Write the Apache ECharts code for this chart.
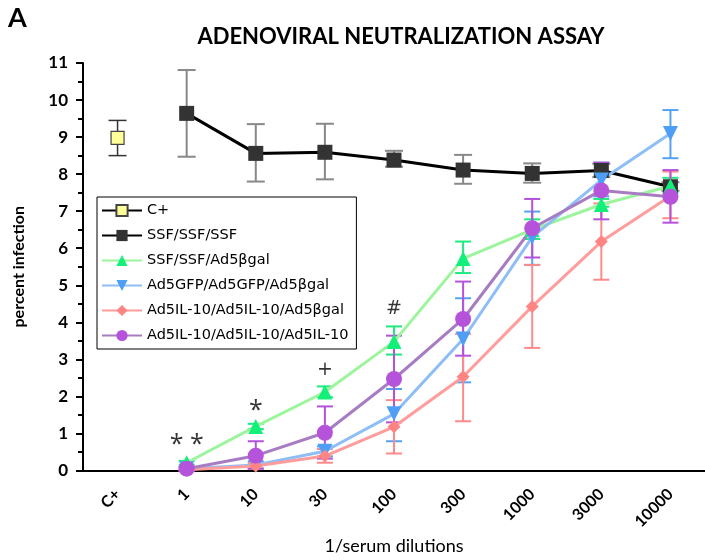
<!DOCTYPE html>
<html><head><meta charset="utf-8">
<script src="https://cdn.jsdelivr.net/npm/echarts@6/dist/echarts.min.js"></script>
<style>html,body{margin:0;padding:0;background:#fff}#c{width:705px;height:560px}</style>
</head><body><div id="c"></div>
<script>
const categories = ['C+','1','10','30','100','300','1000','3000','10000'];
const seriesNames = ['C+','SSF/SSF/SSF','SSF/SSF/Ad5\u03B2gal','Ad5GFP/Ad5GFP/Ad5\u03B2gal','Ad5IL-10/Ad5IL-10/Ad5\u03B2gal','Ad5IL-10/Ad5IL-10/Ad5IL-10'];

const cpMean   = [8.98, null, null, null, null, null, null, null, null];
const cpLow    = [8.50, null, null, null, null, null, null, null, null];
const cpHigh   = [9.45, null, null, null, null, null, null, null, null];

const ssfMean  = [null, 9.64, 8.56, 8.59, 8.38, 8.11, 8.02, 8.10, 7.66];
const ssfLow   = [null, 8.47, 7.80, 7.86, 8.20, 7.74, 7.77, 7.92, 7.55];
const ssfHigh  = [null, 10.81, 9.35, 9.36, 8.63, 8.52, 8.29, 8.28, 7.78];

const grnMean  = [null, 0.21, 1.19, 2.12, 3.48, 5.72, 6.50, 7.18, 7.68];
const grnLow   = [null, 0.16, 1.12, 1.98, 3.13, 5.33, 6.25, 7.12, 7.50];
const grnHigh  = [null, 0.26, 1.26, 2.27, 3.89, 6.18, 6.78, 7.33, 7.90];

const bluMean  = [null, 0.05, 0.15, 0.52, 1.53, 3.55, 6.30, 7.84, 9.10];
const bluLow   = [null, 0.00, 0.05, 0.38, 0.79, 2.38, 5.55, 7.40, 8.43];
const bluHigh  = [null, 0.10, 0.25, 0.65, 2.20, 4.65, 6.99, 8.31, 9.73];

const pnkMean  = [null, 0.02, 0.12, 0.39, 1.18, 2.53, 4.43, 6.18, 7.41];
const pnkLow   = [null, 0.00, 0.05, 0.21, 0.46, 1.33, 3.31, 5.15, 6.81];
const pnkHigh  = [null, 0.04, 0.20, 0.58, 1.90, 3.69, 5.55, 7.21, 8.07];

const purMean  = [null, 0.05, 0.40, 1.02, 2.47, 4.09, 6.54, 7.56, 7.39];
const purLow   = [null, 0.00, 0.05, 0.32, 1.30, 3.10, 5.75, 6.78, 6.69];
const purHigh  = [null, 0.10, 0.79, 1.73, 3.64, 5.10, 7.33, 8.31, 8.11];

const annotCats   = ['1', '10', '30', '100'];
const annotValues = [0.68, 1.60, 2.72, 4.35];
const annotTexts  = ['* *', '*', '+', '#'];

const yTicks = [0,1,2,3,4,5,6,7,8,9,10,11];

const chart = echarts.init(document.getElementById('c'), null, {renderer:'canvas'});

function errSeries(low, high, color, width, capHalf) {
  const data = [];
  for (let i = 0; i < categories.length; i++) {
    if (low[i] != null && high[i] != null) data.push([i, low[i], high[i]]);
  }
  return {
    type: 'custom',
    silent: true,
    z: 2,
    data: data,
    encode: {x: 0, y: [1, 2]},
    renderItem: function (params, api) {
      const x = api.value(0);
      const lo = api.coord([x, api.value(1)]);
      const hi = api.coord([x, api.value(2)]);
      const st = {stroke: color, lineWidth: width};
      return {
        type: 'group',
        children: [
          {type: 'line', shape: {x1: lo[0], y1: lo[1], x2: hi[0], y2: hi[1]}, style: st},
          {type: 'line', shape: {x1: lo[0]-capHalf, y1: lo[1], x2: lo[0]+capHalf, y2: lo[1]}, style: st},
          {type: 'line', shape: {x1: hi[0]-capHalf, y1: hi[1], x2: hi[0]+capHalf, y2: hi[1]}, style: st}
        ]
      };
    }
  };
}

function lineSeries(name, values, lineColor, markColor, symbol, size, lw, border) {
  return {
    name: name,
    type: 'line',
    data: values,
    z: 3,
    symbol: symbol,
    symbolSize: size,
    showAllSymbol: true,
    connectNulls: false,
    lineStyle: {color: lineColor, width: lw},
    itemStyle: {color: markColor, borderColor: border || markColor, borderWidth: border ? 1.2 : 0},
    emphasis: {disabled: true},
    animation: false
  };
}

const annotData = annotCats.map((c, i) => {
  const star = annotTexts[i].indexOf('*') >= 0;
  return {
    value: [c, annotValues[i]],
    label: {formatter: annotTexts[i], fontFamily: star ? 'Open Sans' : 'DejaVu Sans', fontSize: star ? 25 : 19}
  };
});

const option = {
  animation: false,
  backgroundColor: '#fff',
  title: {
    text: 'ADENOVIRAL NEUTRALIZATION ASSAY',
    left: 396, top: 21, textAlign: 'center',
    textStyle: {fontFamily: 'Lato', fontWeight: 'bold', fontSize: 22, color: '#000'}
  },
  graphic: [{
    type: 'text', left: 8, top: 5,
    style: {text: 'A', font: 'bold 27px Lato', fill: '#000'}
  }],
  legend: {
    data: seriesNames,
    orient: 'vertical',
    left: 97, top: 197,
    itemWidth: 40, itemHeight: 14, itemGap: 10,
    padding: [6, 8, 6, 4],
    borderColor: '#000', borderWidth: 1,
    textStyle: {fontFamily: 'DejaVu Sans', fontSize: 14.5, color: '#000'},
    selectedMode: false
  },
  grid: {left: 83, right: 0, top: 63, bottom: 89, containLabel: false},
  xAxis: {
    type: 'category',
    data: categories,
    boundaryGap: true,
    name: '1/serum dilutions',
    nameLocation: 'middle',
    nameGap: 60,
    nameTextStyle: {fontFamily: 'Lato', fontSize: 18, color: '#000'},
    axisLine: {lineStyle: {color: '#000', width: 2}},
    axisTick: {alignWithLabel: true, length: 7, lineStyle: {color: '#000', width: 2}},
    axisLabel: {rotate: 45, margin: 21, fontFamily: 'Lato', fontWeight: 'bold', fontSize: 16, color: '#000', interval: 0},
    splitLine: {show: false}
  },
  yAxis: {
    type: 'value',
    min: 0, max: 11, interval: 1,
    name: 'percent infection',
    nameLocation: 'middle',
    nameGap: 56,
    nameTextStyle: {fontFamily: 'Lato', fontWeight: 'bold', fontSize: 16, color: '#000'},
    axisLine: {show: true, lineStyle: {color: '#000', width: 2}},
    axisTick: {show: true, length: 7, lineStyle: {color: '#000', width: 2}},
    minorTick: {show: true, splitNumber: 2, length: 5, lineStyle: {color: '#000', width: 2}},
    axisLabel: {fontFamily: 'Lato', fontWeight: 'bold', fontSize: 17, color: '#000', margin: 15,
      formatter: v => yTicks.includes(v) ? String(v) : ''},
    splitLine: {show: false}
  },
  series: [
    errSeries(cpLow, cpHigh, '#333', 1.5, 9),
    errSeries(ssfLow, ssfHigh, '#888', 2, 9),
    errSeries(grnLow, grnHigh, '#1EEB7E', 2, 8),
    errSeries(bluLow, bluHigh, '#55A2F2', 2, 8),
    errSeries(pnkLow, pnkHigh, '#FF8A8A', 2, 8),
    errSeries(purLow, purHigh, '#B552DB', 2, 8),
    lineSeries(seriesNames[0], cpMean, '#000', '#FFFF99', 'rect', 13, 1, '#444'),
    lineSeries(seriesNames[1], ssfMean, '#000', '#333', 'rect', 15, 3),
    lineSeries(seriesNames[2], grnMean, '#9CF59C', '#12F07A', 'triangle', 15, 3),
    lineSeries(seriesNames[3], bluMean, '#8DBEF5', '#4F9EF5', 'path://M0,0 L10,0 L5,9 Z', 15, 3),
    lineSeries(seriesNames[4], pnkMean, '#FF9C9C', '#FF8585', 'diamond', 13, 3),
    lineSeries(seriesNames[5], purMean, '#A77CC3', '#B553DB', 'circle', 16, 3),
    {
      type: 'scatter',
      silent: true,
      z: 5,
      symbolSize: 2,
      itemStyle: {color: 'rgba(0,0,0,0)'},
      data: annotData,
      label: {show: true, position: 'inside', fontFamily: 'Open Sans', fontSize: 25, color: '#000'}
    }
  ]
};
chart.setOption(option);
</script>
</body></html>
